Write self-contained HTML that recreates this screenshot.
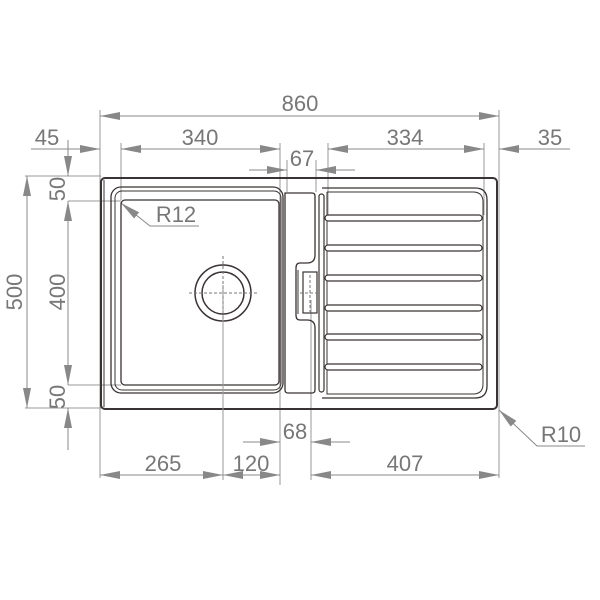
<!DOCTYPE html>
<html><head><meta charset="utf-8"><style>
html,body{margin:0;padding:0;background:#fff}
svg{display:block}
text{font-family:"Liberation Sans",sans-serif;fill:#777;font-size:22px}
</style></head><body>
<svg width="600" height="600" viewBox="0 0 600 600">
<defs>
<marker id="a" viewBox="0 0 20 8" refX="20" refY="4" markerWidth="20" markerHeight="8" markerUnits="userSpaceOnUse" orient="auto-start-reverse"><path d="M0,0 L20,4 L0,8 Z" fill="#888"/></marker>
</defs>
<g stroke="#999" stroke-width="1" fill="none">
<!-- extension lines -->
<line x1="100" y1="110" x2="100" y2="478"/>
<line x1="499" y1="110" x2="499" y2="478"/>
<line x1="121" y1="143" x2="121" y2="200"/>
<line x1="280" y1="143" x2="280" y2="485"/>
<line x1="287" y1="160" x2="287" y2="192"/>
<line x1="316" y1="160" x2="316" y2="192"/>
<line x1="328" y1="143" x2="328" y2="215"/>
<line x1="484" y1="143" x2="484" y2="215"/>
<line x1="223" y1="285" x2="223" y2="480"/>
<line x1="311" y1="300" x2="311" y2="480"/>
<line x1="25" y1="176" x2="101" y2="176"/>
<line x1="25" y1="408" x2="101" y2="408"/>
<line x1="68" y1="201" x2="121" y2="201"/>
<line x1="68" y1="385" x2="121" y2="385"/>
</g>
<g stroke="#888" stroke-width="1" fill="none">
<line x1="100" y1="116" x2="499" y2="116" marker-start="url(#a)" marker-end="url(#a)"/>
<line x1="31" y1="149" x2="100" y2="149" marker-end="url(#a)"/>
<line x1="121" y1="149" x2="280" y2="149" marker-start="url(#a)" marker-end="url(#a)"/>
<line x1="328" y1="149" x2="484" y2="149" marker-start="url(#a)" marker-end="url(#a)"/>
<line x1="570" y1="149" x2="499" y2="149" marker-end="url(#a)"/>
<line x1="249" y1="170" x2="287" y2="170" marker-end="url(#a)"/>
<line x1="355" y1="170" x2="316" y2="170" marker-end="url(#a)"/>
<line x1="243" y1="442" x2="280" y2="442" marker-end="url(#a)"/>
<line x1="350" y1="442" x2="311" y2="442" marker-end="url(#a)"/>
<line x1="100" y1="475" x2="223" y2="475" marker-start="url(#a)" marker-end="url(#a)"/>
<line x1="223" y1="475" x2="280" y2="475" marker-start="url(#a)" marker-end="url(#a)"/>
<line x1="311" y1="475" x2="499" y2="475" marker-start="url(#a)" marker-end="url(#a)"/>
<line x1="27" y1="176" x2="27" y2="408" marker-start="url(#a)" marker-end="url(#a)"/>
<line x1="68" y1="201" x2="68" y2="385" marker-start="url(#a)" marker-end="url(#a)"/>
<line x1="68" y1="140" x2="68" y2="176" marker-end="url(#a)"/>
<line x1="68" y1="450" x2="68" y2="408" marker-end="url(#a)"/>
<polyline points="585,446 537,446 499,410" marker-end="url(#a)"/>
<polyline points="199,226 150,226 121,203" marker-end="url(#a)"/>
</g>
<!-- sink -->
<g fill="none" stroke="#3a3333">
<rect x="101" y="178" width="396" height="231" rx="4" stroke-width="2"/>
<line x1="104" y1="180" x2="104" y2="407" stroke-width="1"/>
<rect x="111" y="187" width="172" height="206" rx="10" stroke-width="1.3"/>
<rect x="115" y="191" width="166" height="199" rx="7" stroke-width="1"/>
<rect x="121" y="200" width="158" height="185" rx="4" stroke-width="1.3"/>
<circle cx="223" cy="293" r="28" stroke-width="1.5"/>
<circle cx="223" cy="293" r="21" stroke-width="1.5"/>
<path d="M285,193 H312 Q315,193 315,196 V255 Q315,263 307,263 H300 Q296,263 296,268 V315 Q296,320 300,320 H307 Q315,320 315,328 V390 Q315,393 312,393 H288 Q285,393 285,390 Z" stroke-width="1.3"/>
<path d="M298,270 V314" stroke-width="1"/>
<rect x="303" y="272" width="14" height="41" stroke-width="1.2"/>
<rect x="319" y="194" width="5" height="198" rx="2.5" stroke-width="1.2"/>
<path d="M322,188 H475 Q487,188 487,200 V386 Q487,398 475,398 H322" stroke-width="1.3"/>
<path d="M327,192 H473 Q483,192 483,202 V384 Q483,394 473,394 H327 V192" stroke-width="1"/>
<g stroke-width="1.2" fill="#fff">
<rect x="325" y="215" width="157" height="6" rx="3"/>
<rect x="325" y="245" width="157" height="6" rx="3"/>
<rect x="325" y="275" width="157" height="6" rx="3"/>
<rect x="325" y="305" width="157" height="6" rx="3"/>
<rect x="325" y="334" width="157" height="6" rx="3"/>
<rect x="325" y="364" width="157" height="6" rx="3"/>
</g>
</g>
<g stroke="#777" stroke-width="1" stroke-dasharray="3,2" fill="none">
<line x1="223" y1="256" x2="223" y2="330"/>
<line x1="189" y1="293" x2="257" y2="293"/>
<line x1="310" y1="275" x2="310" y2="312"/>
<line x1="300" y1="293" x2="320" y2="293"/>
</g>
<g stroke="#999" stroke-width="1"><line x1="223" y1="320" x2="223" y2="480"/></g>
<text x="300" y="111" text-anchor="middle">860</text>
<text x="47" y="145" text-anchor="middle">45</text>
<text x="200" y="145" text-anchor="middle">340</text>
<text x="405" y="145" text-anchor="middle">334</text>
<text x="550" y="145" text-anchor="middle">35</text>
<text x="302" y="166" text-anchor="middle">67</text>
<text x="176" y="222" text-anchor="middle">R12</text>
<text x="295" y="439" text-anchor="middle">68</text>
<text x="561" y="442" text-anchor="middle">R10</text>
<text x="163" y="471" text-anchor="middle">265</text>
<text x="251" y="471" text-anchor="middle">120</text>
<text x="405" y="471" text-anchor="middle">407</text>
<text transform="translate(22,292) rotate(-90)" text-anchor="middle">500</text>
<text transform="translate(65,292) rotate(-90)" text-anchor="middle">400</text>
<text transform="translate(65,189) rotate(-90)" text-anchor="middle">50</text>
<text transform="translate(65,397) rotate(-90)" text-anchor="middle">50</text>
</svg>
</body></html>
